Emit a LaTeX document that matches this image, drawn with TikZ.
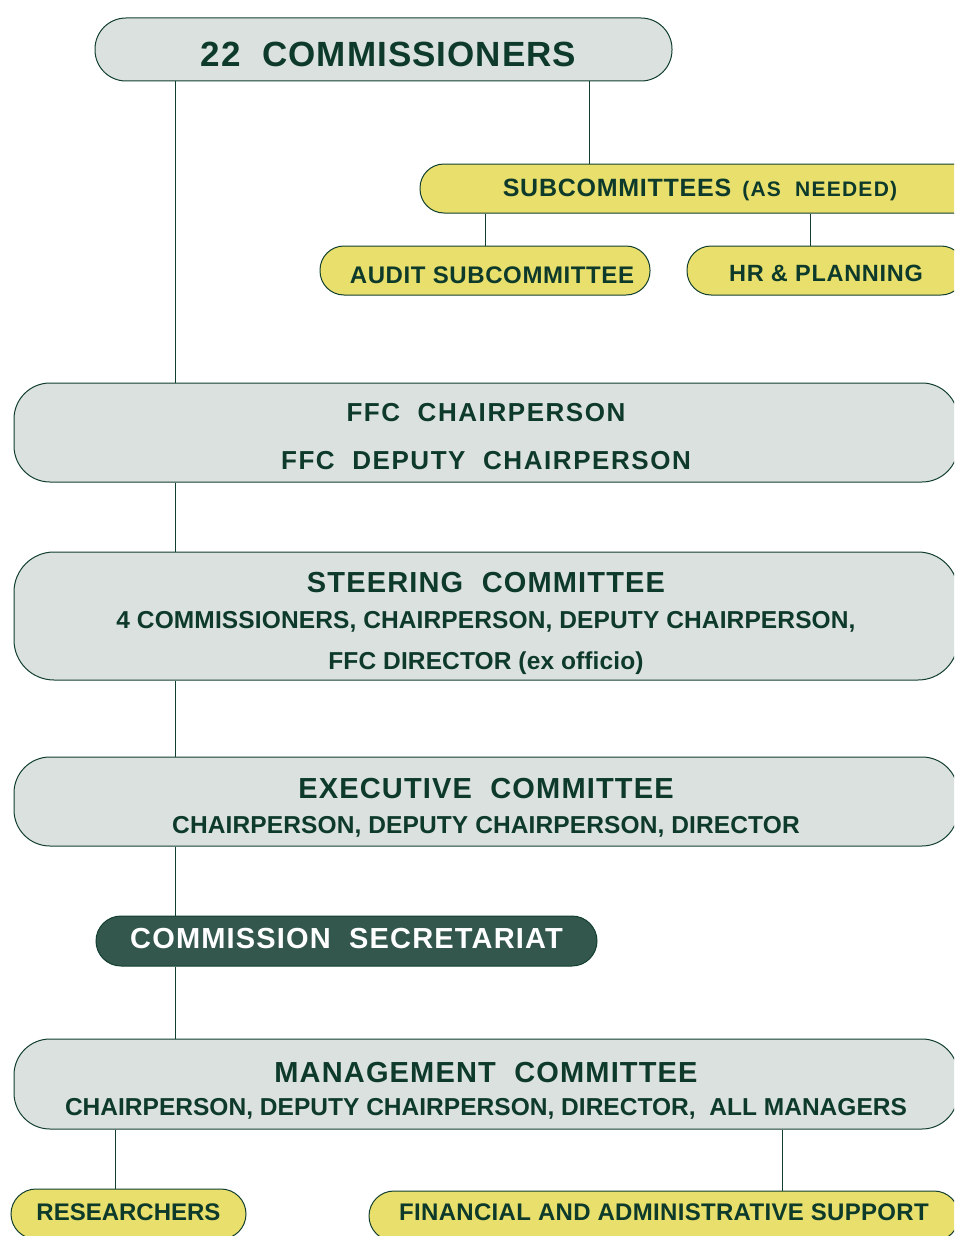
\documentclass[tikz,border=0pt]{standalone}
\usepackage{fontspec}
\setmainfont{Liberation Sans}
\newfontfamily\headfont{Liberation Sans}[WordSpace=2]
\usepackage{xcolor}

\definecolor{ink}{HTML}{0D3A2B}
\definecolor{edge}{HTML}{123F30}
\definecolor{mist}{HTML}{DBE1DE}
\definecolor{straw}{HTML}{E8DF6C}
\definecolor{pine}{HTML}{33574D}

% size, letter spacing, text
\newcommand{\txt}[3]{{\fontsize{#1}{0}\selectfont\addfontfeatures{LetterSpace=#2}#3}}
\newcommand{\headtxt}[3]{{\headfont\txt{#1}{#2}{#3}}}

\begin{document}
\begin{tikzpicture}[x=1pt,y=-1pt,
    box/.style={draw=edge,line width=1pt,fill=mist,text=ink,inner sep=0pt,
      align=center,font={\bfseries\fontsize{10}{0}\selectfont\lineskiplimit=-400pt}},
    pill/.style={box,fill=straw},
    wire/.style={draw=edge,line width=0.9pt}]%
  \useasboundingbox[clip] (0,0) rectangle (954,1236);%
  \coordinate (spine) at (175,0);%
  % top of the tree
  \node[box,minimum width=577pt,minimum height=63pt,rounded corners=31pt,
    text height=34pt,text depth=0pt]
    (comm) at (383.5,49.5) {\hspace*{10pt}\headtxt{35}{3}{22 COMMISSIONERS}};%
  \node[pill,minimum width=560pt,minimum height=49pt,rounded corners=24pt,
    text height=16pt,text depth=0pt]
    (subc) at (700,188.5) {\txt{25}{3}{SUBCOMMITTEES}\hspace{11pt}%
      \headtxt{21}{6}{(AS NEEDED)}};%
  \node[pill,minimum width=330pt,minimum height=49pt,rounded corners=24pt,
    text height=25pt,text depth=0pt]
    (audit) at (485,270.5) {\hspace*{14pt}\txt{24}{2.5}{AUDIT SUBCOMMITTEE}};%
  \node[pill,minimum width=278pt,minimum height=49pt,rounded corners=24pt,
    text height=22pt,text depth=0pt]
    (hr) at (826,270.5) {\txt{23.5}{3}{HR \& PLANNING}};%
  % committees down the spine
  \node[box,minimum width=944pt,minimum height=99pt,rounded corners=36pt,
    text height=73.6pt,text depth=0pt]
    (ffc) at (486,432.5) {\headtxt{26}{6}{FFC CHAIRPERSON}\\[48pt]
      \headtxt{26}{6}{FFC DEPUTY CHAIRPERSON}};%
  \node[box,minimum width=944pt,minimum height=128pt,rounded corners=40pt,
    text height=106.6pt,text depth=0pt]
    (steer) at (486,616) {\headtxt{29}{4}{STEERING COMMITTEE}\\[36pt]
      \txt{24.5}{0.5}{4 COMMISSIONERS, CHAIRPERSON, DEPUTY CHAIRPERSON,}\\[41pt]
      \txt{24.5}{0.5}{FFC DIRECTOR (ex officio)}};%
  \node[box,minimum width=944pt,minimum height=89pt,rounded corners=36pt,
    text height=63.6pt,text depth=0pt]
    (exec) at (486,801.5) {\headtxt{29}{4}{EXECUTIVE COMMITTEE}\\[35pt]
      \txt{24.5}{0.5}{CHAIRPERSON, DEPUTY CHAIRPERSON, DIRECTOR}};%
  \node[box,fill=pine,text=white,minimum width=501pt,minimum height=50pt,
    rounded corners=25pt,text height=15pt,text depth=0pt] (sec) at (346.5,941)
    {\headtxt{29}{4}{COMMISSION SECRETARIAT}};%
  \node[box,minimum width=944pt,minimum height=90pt,rounded corners=36pt,
    text height=62pt,text depth=0pt]
    (mgmt) at (486,1084) {\headtxt{29}{4}{MANAGEMENT COMMITTEE}\\[33pt]
      \txt{24.5}{0.1}{CHAIRPERSON, DEPUTY CHAIRPERSON, DIRECTOR,~ ALL MANAGERS}};%
  \node[pill,minimum width=235pt,minimum height=50pt,rounded corners=25pt,
    text height=13pt,text depth=0pt]
    (res) at (128.5,1214) {\txt{24}{0}{RESEARCHERS}};%
  \node[pill,minimum width=590pt,minimum height=50pt,rounded corners=25pt,
    text height=8pt,text depth=0pt]
    (fin) at (664,1216) {\txt{24}{1.3}{FINANCIAL AND ADMINISTRATIVE SUPPORT}};%
  % connectors
  \draw[wire] (comm.south -| spine) -- (ffc.north -| spine);%
  \draw[wire] (ffc.south -| spine) -- (steer.north -| spine);%
  \draw[wire] (steer.south -| spine) -- (exec.north -| spine);%
  \draw[wire] (exec.south -| spine) -- (sec.north -| spine);%
  \draw[wire] (sec.south -| spine) -- (mgmt.north -| spine);%
  \draw[wire] (comm.south -| 589,0) -- (subc.north -| 589,0);%
  \draw[wire] (subc.south -| audit.north) -- (audit.north);%
  \draw[wire] (subc.south -| 810,0) -- (hr.north -| 810,0);%
  \draw[wire] (mgmt.south -| 115,0) -- (res.north -| 115,0);%
  \draw[wire] (mgmt.south -| 782,0) -- (fin.north -| 782,0);%
\end{tikzpicture}
\end{document}
